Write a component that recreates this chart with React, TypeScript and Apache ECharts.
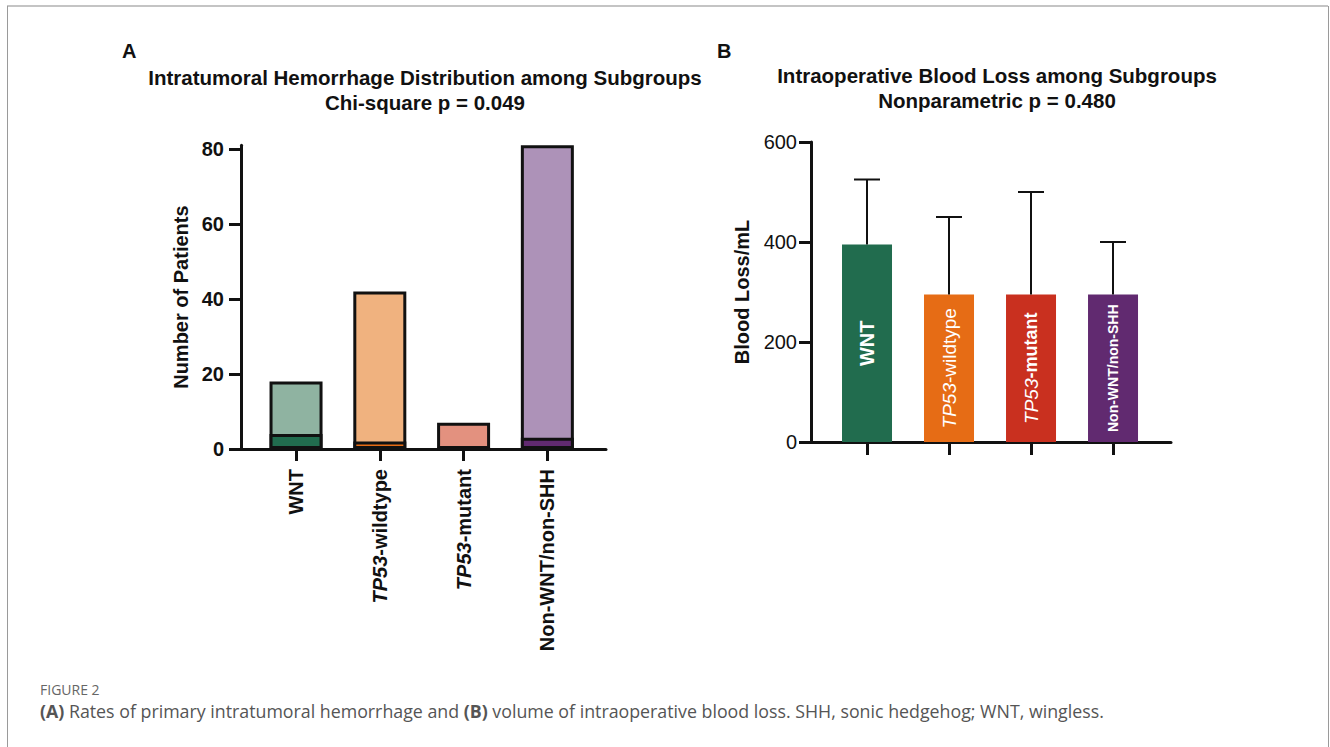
import React, { useEffect, useRef } from "react";
import * as echarts from "echarts";

// Panel A data
const catsA = ["WNT", "TP53-wildtype", "TP53-mutant", "Non-WNT/non-SHH"];
const patientsTotal = [18, 42, 7, 81];
const hemorrhageYes = [4, 2, 0, 3];
const darkColorsA = ["#216c4e", "#e66c15", "#c9301f", "#612a70"];
const lightColorsA = ["#8fb3a1", "#f0b27f", "#e3917f", "#ad92b8"];
const ticksA = [0, 20, 40, 60, 80];

// Panel B data
const catsB = ["WNT", "TP53-wildtype", "TP53-mutant", "Non-WNT/non-SHH"];
const bloodLossMean = [395, 295, 295, 295];
const bloodLossUpper = [525, 450, 500, 400];
const colorsB = ["#216c4e", "#e66c15", "#c9301f", "#612a70"];
const ticksB = [0, 200, 400, 600];

const FONT = "'Liberation Sans', Arial, Helvetica, sans-serif";
const CAP_FONT = "'Open Sans', 'Noto Sans', sans-serif";

const labelA = (name: string) => {
  if (name.startsWith("TP53")) return "{i|TP53}{b|" + name.slice(4) + "}";
  return "{b|" + name + "}";
};

export default function App() {
  const ref = useRef<HTMLDivElement>(null);
  useEffect(() => {
    if (!ref.current) return;
    const chart = echarts.init(ref.current, null, { renderer: "svg" });
    const idx = [0, 1, 2, 3];
    const titleStyle = { fontFamily: FONT, fontWeight: "bold", fontSize: 20.5, color: "#111", lineHeight: 25 };
    const option: any = {
      animation: false,
      backgroundColor: "#ffffff",
      textStyle: { fontFamily: FONT },
      title: [
        {
          text: "Intratumoral Hemorrhage Distribution among Subgroups\nChi-square p = 0.049",
          left: 420,
          top: 59.5,
          textAlign: "center",
          textStyle: titleStyle,
        },
        {
          text: "Intraoperative Blood Loss among Subgroups\nNonparametric p = 0.480",
          left: 992,
          top: 57.5,
          textAlign: "center",
          textStyle: titleStyle,
        },
      ],
      grid: [
        { left: 241, top: 145.25, width: 365, height: 303.75 },
        { left: 811, top: 142, width: 360, height: 300 },
      ],
      xAxis: [
        {
          type: "value",
          gridIndex: 0,
          min: -0.657,
          max: 3.7,
          splitLine: { show: false },
          axisLine: { show: true, onZero: false, lineStyle: { color: "#111", width: 3 } },
          axisTick: { show: true, customValues: idx, length: 12, lineStyle: { color: "#111", width: 3 } },
          axisLabel: {
            customValues: idx,
            rotate: 90,
            margin: 20,
            formatter: (v: number) => labelA(catsA[Math.round(v)] || ""),
            rich: {
              i: { fontFamily: FONT, fontStyle: "italic", fontWeight: "bold", fontSize: 20, color: "#111" },
              b: { fontFamily: FONT, fontWeight: "bold", fontSize: 20, color: "#111" },
            },
          },
        },
        {
          type: "value",
          gridIndex: 1,
          min: -0.683,
          max: 3.707,
          splitLine: { show: false },
          axisLine: { show: true, onZero: false, lineStyle: { color: "#111", width: 3 } },
          axisTick: { show: true, customValues: idx, length: 13, lineStyle: { color: "#111", width: 3 } },
          axisLabel: { show: false },
        },
      ],
      yAxis: [
        {
          type: "value",
          gridIndex: 0,
          min: 0,
          max: 81,
          splitLine: { show: false },
          axisLine: { show: true, onZero: false, lineStyle: { color: "#111", width: 3 } },
          axisTick: { show: true, customValues: ticksA, length: 12, lineStyle: { color: "#111", width: 3 } },
          axisLabel: {
            customValues: ticksA,
            margin: 17,
            fontFamily: FONT,
            fontWeight: "bold",
            fontSize: 20,
            color: "#111",
          },
          name: "Number of Patients",
          nameLocation: "middle",
          nameGap: 50,
          nameTextStyle: { fontFamily: FONT, fontWeight: "bold", fontSize: 20, color: "#111" },
        },
        {
          type: "value",
          gridIndex: 1,
          min: 0,
          max: 600,
          interval: 200,
          splitLine: { show: false },
          axisLine: { show: true, onZero: false, lineStyle: { color: "#111", width: 3 } },
          axisTick: { show: true, customValues: ticksB, length: 12, lineStyle: { color: "#111", width: 3 } },
          axisLabel: {
            customValues: ticksB,
            margin: 14,
            fontFamily: FONT,
            fontSize: 20,
            color: "#111",
          },
          name: "Blood Loss/mL",
          nameLocation: "middle",
          nameGap: 59,
          nameTextStyle: { fontFamily: FONT, fontWeight: "bold", fontSize: 20, color: "#111" },
        },
      ],
      series: [
        {
          type: "bar",
          xAxisIndex: 0,
          yAxisIndex: 0,
          barWidth: 53,
          barGap: "-100%",
          clip: false,
          z: 2,
          data: patientsTotal.map((v, i) => ({
            value: [i, v],
            itemStyle: { color: lightColorsA[i], borderColor: "#111", borderWidth: 3 },
          })),
        },
        {
          type: "bar",
          xAxisIndex: 0,
          yAxisIndex: 0,
          barWidth: 53,
          barGap: "-100%",
          clip: false,
          z: 3,
          data: hemorrhageYes.map((v, i) => ({
            value: [i, v],
            itemStyle: { color: darkColorsA[i], borderColor: "#111", borderWidth: 3 },
          })),
        },
        {
          type: "bar",
          xAxisIndex: 1,
          yAxisIndex: 1,
          barWidth: 50,
          data: bloodLossMean.map((v, i) => {
            const name = catsB[i];
            let text = "{w|" + name + "}";
            if (name === "TP53-wildtype") text = "{ir|TP53}{r|-wildtype}";
            if (name === "TP53-mutant") text = "{ir|TP53}{bm|-mutant}";
            if (name === "Non-WNT/non-SHH") text = "{s|" + name + "}";
            return {
              value: [i, v],
              itemStyle: { color: colorsB[i] },
              label: {
                show: true,
                position: "inside",
                rotate: 90,
                formatter: text,
                rich: {
                  w: { fontFamily: FONT, fontWeight: "bold", fontSize: 20, color: "#fff" },
                  ir: { fontFamily: FONT, fontStyle: "italic", fontSize: 19, color: "#fff" },
                  r: { fontFamily: FONT, fontSize: 19, color: "#fff" },
                  bm: { fontFamily: FONT, fontWeight: "bold", fontSize: 18, color: "#fff" },
                  s: { fontFamily: FONT, fontWeight: "bold", fontSize: 14, color: "#fff" },
                },
              },
            };
          }),
          z: 2,
        },
        {
          type: "custom",
          xAxisIndex: 1,
          yAxisIndex: 1,
          z: 3,
          data: bloodLossMean.map((v, i) => [i, v, bloodLossUpper[i]]),
          renderItem: (params: any, api: any) => {
            const x = api.value(0);
            const lo = api.coord([x, api.value(1)]);
            const hi = api.coord([x, api.value(2)]);
            const half = 13;
            return {
              type: "group",
              children: [
                {
                  type: "line",
                  shape: { x1: lo[0], y1: lo[1], x2: hi[0], y2: hi[1] },
                  style: { stroke: "#111", lineWidth: 2 },
                },
                {
                  type: "line",
                  shape: { x1: hi[0] - half, y1: hi[1], x2: hi[0] + half, y2: hi[1] },
                  style: { stroke: "#111", lineWidth: 2 },
                },
              ],
            };
          },
        },
      ],
      graphic: [
        { type: "line", shape: { x1: 7, y1: 6, x2: 1328, y2: 6 }, style: { stroke: "#c4c4c4", lineWidth: 2 } },
        { type: "line", shape: { x1: 7.5, y1: 6, x2: 7.5, y2: 747 }, style: { stroke: "#9a9a9a", lineWidth: 1 } },
        { type: "line", shape: { x1: 1328.5, y1: 6, x2: 1328.5, y2: 747 }, style: { stroke: "#9a9a9a", lineWidth: 1 } },
        {
          type: "text",
          left: 122,
          top: 41,
          style: { text: "A", fontFamily: FONT, fontWeight: "bold", fontSize: 20, fill: "#111" },
        },
        {
          type: "text",
          left: 717,
          top: 41,
          style: { text: "B", fontFamily: FONT, fontWeight: "bold", fontSize: 20, fill: "#111" },
        },
        {
          type: "text",
          left: 40,
          top: 682,
          style: { text: "FIGURE 2", fontFamily: CAP_FONT, fontSize: 14, fill: "#666" },
        },
        {
          type: "text",
          left: 40,
          top: 702,
          style: {
            text: "{b|(A)} Rates of primary intratumoral hemorrhage and {b|(B)} volume of intraoperative blood loss. SHH, sonic hedgehog; WNT, wingless.",
            fontFamily: CAP_FONT,
            fontSize: 17.8,
            fill: "#555",
            rich: {
              b: { fontFamily: CAP_FONT, fontSize: 17.8, fontWeight: "bold", fill: "#555" },
            },
          },
        },
      ],
    };
    chart.setOption(option);
    return () => chart.dispose();
  }, []);
  return (
    <div
      ref={ref}
      style={{ position: "fixed", left: 0, top: 0, width: 1330, height: 747, background: "#fff" }}
    />
  );
}
